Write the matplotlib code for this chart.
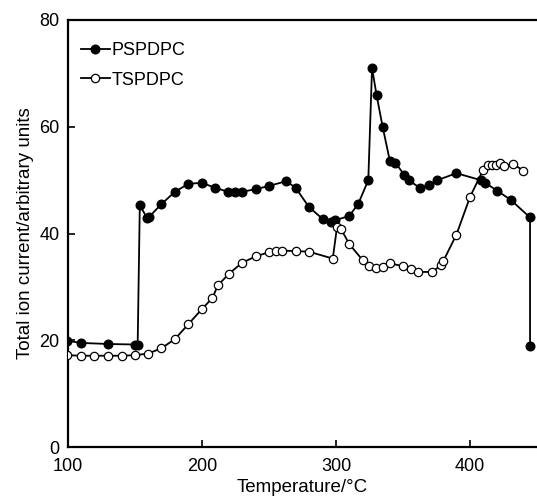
import matplotlib
matplotlib.use("Agg")
import matplotlib.pyplot as plt

plt.rcParams['font.family'] = ['Liberation Sans', 'DejaVu Sans']

ps_temp = [99.5, 109.7, 130, 150, 152, 153.6, 159, 160.5, 169.7, 179.7, 189.8, 199.8,
           209.5, 219.6, 224.3, 229.6, 240, 249.9, 262.8, 269.8, 279.7, 290.1, 296.3,
           299.6, 310, 316.7, 324.1, 326.9, 330.3, 334.8, 340.3, 344.2, 350.9, 354.2,
           362.8, 369.5, 375.7, 389.9, 408, 411.2, 420.4, 430.4, 444.8, 444.8]
ps_val = [19.9, 19.5, 19.3, 19.2, 19.2, 45.3, 42.9, 43.1, 45.5, 47.8, 49.3, 49.5,
          48.6, 47.8, 47.7, 47.8, 48.3, 48.9, 49.8, 48.6, 45.0, 42.7, 42.2,
          42.5, 43.3, 45.6, 50.0, 71.0, 65.9, 60.0, 53.5, 53.3, 51.0, 50.0,
          48.5, 49.1, 50.0, 51.3, 50.0, 49.5, 48.0, 46.3, 43.0, 19.0]

ts_temp = [99.5, 109.7, 119.6, 130, 140, 149.9, 159.8, 169.7, 179.7, 189.8, 199.8,
           207.7, 211.9, 219.9, 229.8, 240, 249.9, 254.9, 259.9, 269.8, 279.7, 297.6,
           300.8, 303.8, 310, 319.9, 324.9, 329.9, 334.8, 340.3, 349.7, 355.9, 361.4,
           372, 378.3, 380.2, 389.9, 400.1, 409.8, 413.5, 416.7, 419.2, 422.2, 425.4,
           432.1, 439.8]
ts_val = [17.2, 17.1, 17.1, 17.1, 17.1, 17.2, 17.5, 18.5, 20.2, 23.0, 25.8,
          27.9, 30.3, 32.4, 34.5, 35.7, 36.5, 36.7, 36.8, 36.7, 36.6, 35.3,
          41.3, 40.8, 38.0, 35.0, 33.9, 33.5, 33.8, 34.4, 33.9, 33.3, 32.8,
          32.8, 34.1, 34.9, 39.8, 46.9, 51.9, 52.8, 52.8, 52.8, 53.3, 52.7,
          53.0, 51.8]

x_ticks = [100, 200, 300, 400]
y_ticks = [0, 20, 40, 60, 80]

fig = plt.figure(figsize=(5.37, 5.0), dpi=100)
ax = fig.add_axes([0.1266, 0.106, 0.8734, 0.854])

ax.plot(ps_temp, ps_val, '-', color='black', lw=1.3, marker='o', ms=6.2,
        mfc='black', mec='black', label='PSPDPC', zorder=3)
ax.plot(ts_temp, ts_val, '-', color='black', lw=1.3, marker='o', ms=6.0,
        mfc='white', mec='black', mew=0.9, label='TSPDPC', zorder=4)

ax.set_xlim(100, 450)
ax.set_ylim(0, 80)
ax.set_xticks(x_ticks)
ax.set_yticks(y_ticks)
ax.tick_params(direction='in', length=5, width=1.2, labelsize=13)
ax.tick_params(axis='x', pad=8)
ax.tick_params(axis='y', pad=6)
for s in ['left', 'bottom', 'top']:
    ax.spines[s].set_linewidth(1.6)
ax.spines['right'].set_visible(False)

ax.set_xlabel('Temperature/°C', fontsize=13.5, labelpad=3)
ax.set_ylabel('Total ion current/arbitrary units', fontsize=13.5, labelpad=4)

leg = ax.legend(loc='upper left', bbox_to_anchor=(-0.003, 0.982), frameon=False,
                fontsize=13, handlelength=1.6, handletextpad=0.1,
                borderaxespad=0.5, labelspacing=0.7, borderpad=0.3)

fig.savefig('out.png', dpi=100)
